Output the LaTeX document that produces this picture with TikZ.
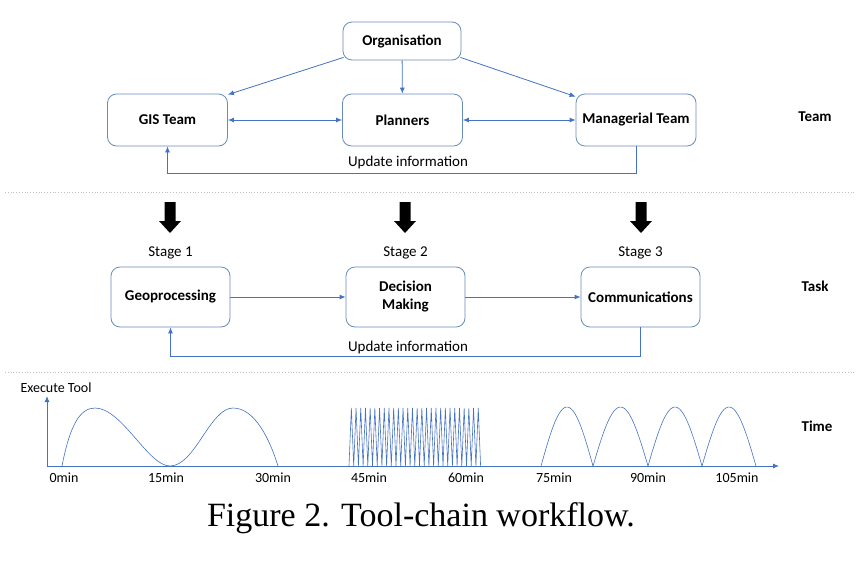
\documentclass[tikz,border=0pt]{standalone}
\usepackage{fontspec}
\setmainfont{Carlito}
\newfontfamily\capfont{Liberation Serif}
\usetikzlibrary{arrows.meta,positioning}
\definecolor{boxblue}{RGB}{104,140,186}
\definecolor{linkblue}{RGB}{68,114,196}
\tikzset{
  teambox/.style={draw=boxblue,line width=0.8pt,rounded corners=9pt,minimum width=120pt,
    minimum height=52pt,font=\fontsize{15}{18}\selectfont\bfseries,align=center},
  taskbox/.style={teambox,minimum width=119pt,minimum height=60pt},
  link/.style={draw=linkblue,line width=0.8pt},
  arr/.style={link,-{Latex[length=6pt,width=5pt]}},
  both/.style={link,{Latex[length=6pt,width=5pt]}-{Latex[length=6pt,width=5pt]}},
  lbl/.style={font=\fontsize{15}{18}\selectfont},
  side/.style={font=\fontsize{15}{18}\selectfont\bfseries},
  tick/.style={font=\fontsize{14}{16}\selectfont},
  sep/.style={draw=black!25,dotted,line width=0.8pt},
  wave/.style={draw=linkblue,line width=0.6pt},
}
\begin{document}
\begin{tikzpicture}[x=1pt,y=-1pt]
  \useasboundingbox (0,0) rectangle (861,576);
  % team level
  \node[teambox,minimum width=118pt,minimum height=38pt] (org) at (402,41) {Organisation};
  \node[teambox] (gis) at (167.5,120) {GIS Team};
  \node[teambox] (plan) at (402.5,120) {Planners};
  \node[teambox] (mgr) at (636,120) {Managerial Team};
  \draw[arr] ([xshift=1pt,yshift=3pt]org.south west) -- ([yshift=-1pt]gis.north east);
  \draw[arr] (org) -- (plan);
  \draw[arr] ([xshift=-1pt,yshift=3pt]org.south east) -- ([yshift=-3pt]mgr.north west);
  \draw[both] (gis) -- (plan);
  \draw[both] (plan) -- (mgr);
  \draw[arr] (mgr.south) -- ++(0,27) -| (gis.south);
  \node[lbl] (upd1) at (408,162) {Update information};
  \node[side] (team) at (815,117) {Team};
  \draw[sep] (5,192) -- (856,192);

  % block arrows
  \foreach \x in {170,405,641}
    \fill ({\x-5.5},202) -- ({\x+5.5},202) -- ({\x+5.5},221) -- ({\x+11},221)
      -- (\x,233) -- ({\x-11},221) -- ({\x-5.5},221) -- cycle;

  % task level
  \node[lbl] (st1) at (170.5,253) {Stage 1};
  \node[lbl] (st2) at (405.5,253) {Stage 2};
  \node[lbl] (st3) at (640.5,253) {Stage 3};
  \node[taskbox] (geo) at (170.5,297) {Geoprocessing};
  \node[taskbox] (dec) at (405.5,297) {Decision\\Making};
  \node[taskbox] (comm) at (640.5,297) {Communications};
  \draw[arr] (geo) -- (dec);
  \draw[arr] (dec) -- (comm);
  \draw[arr] (comm.south) -- ++(0,29) -| (geo.south);
  \node[lbl] (upd2) at (408,347) {Update information};
  \node[side] (task) at (815,286) {Task};
  \draw[sep] (5,372) -- (856,372);

  % time axis
  \coordinate (o) at (47,466);
  \coordinate (ytop) at (47,396);
  \coordinate (xend) at (779,466);
  \draw[arr] (o) -- (ytop);
  \draw[arr] (o) -- (xend);
  \node[tick,anchor=west] (exe) at (17,388) {Execute Tool};
  \node[side] (time) at (817,426) {Time};
  \foreach \x/\t in {64/0min,166/15min,273/30min,369/45min,466/60min,554/75min,648/90min,737/105min}
    \node[tick] (lab-\x) at (\x,478) {\t};
  \draw[wave] (62,466) .. controls (70,425) and (80,408) .. (95,408)
    .. controls (122,408) and (148,466) .. (170,466)
    .. controls (195,466) and (210,408) .. (233,408)
    .. controls (255,408) and (270,440) .. (278,466);
  \draw[wave] (349,466) \foreach \i in {0,...,27} { -- ({349+4.7*\i+2.35},408) -- ({349+4.7*(\i+1)},466) };
  \foreach \a/\b in {541/593,593/648,648/702,702/756}
    \draw[wave] plot[domain=0:1,samples=30,smooth] ({\a+(\b-\a)*\x},{466-59*sin(180*\x)});

  \node[font=\capfont\fontsize{34}{40}\selectfont] (cap) at (421,518) {Figure 2. Tool-chain workflow.};
\end{tikzpicture}
\end{document}
